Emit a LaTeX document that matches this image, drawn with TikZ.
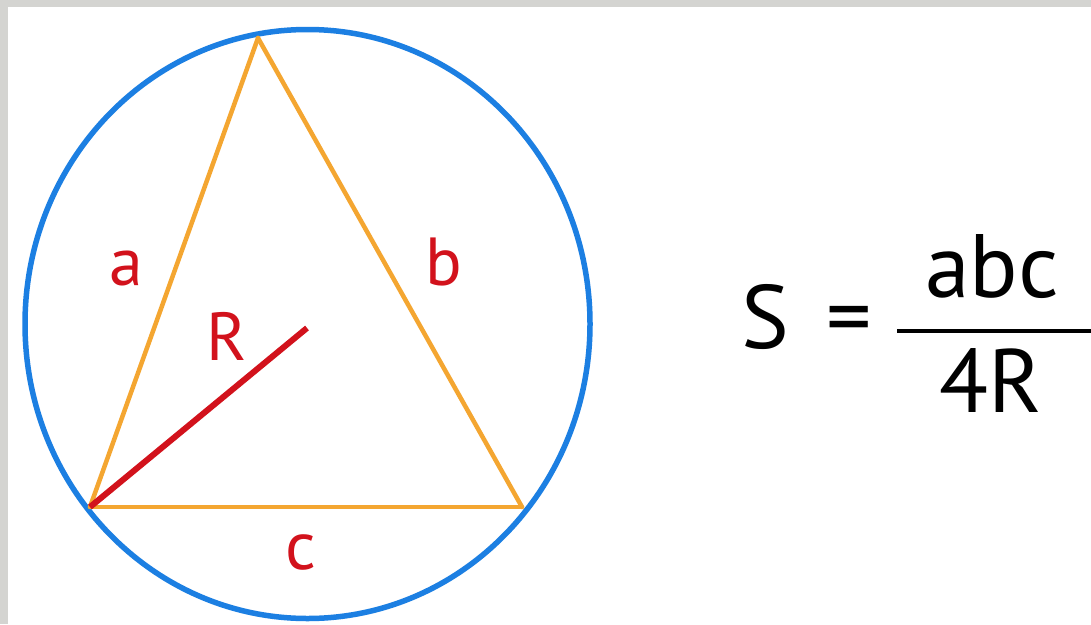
\documentclass[tikz,border=0pt]{standalone}
\usepackage{fontspec}
\setmainfont{PT Sans}
\definecolor{bgray}{HTML}{D4D4D1}
\definecolor{cblue}{HTML}{1C7FE2}
\definecolor{corange}{HTML}{F4A631}
\definecolor{cred}{HTML}{D2121C}
\tikzset{
  lbl/.style={text=cred, inner sep=0pt, anchor=base, font=\fontsize{68}{70}\selectfont},
  frm/.style={text=black, inner sep=0pt, font=\fontsize{90}{92}\selectfont},
  side/.style={draw=corange, line width=4.5pt, line cap=round, line join=round},
}
\begin{document}
\begin{tikzpicture}[x=1pt,y=-1pt]
\fill[bgray] (0,0) rectangle (1091,624);
\fill[white] (8,7) rectangle (1091,624);
\useasboundingbox (0,0) rectangle (1091,624);
% circumscribed circle
\draw[cblue, line width=5.5pt] (307.5,324) ellipse [x radius=282.5, y radius=294.5];
% triangle
\coordinate (A) at (258,38);
\coordinate (B) at (90,507);
\coordinate (C) at (522,507);
\coordinate (O) at (307,328);
\draw[side] (A) -- (B);
\draw[side] (A) -- (C);
\draw[side] (B) -- (C);
\draw[cred, line width=6pt] (B) -- (O);
% labels
\node[lbl] (la) at (126,285) {a};
\node[lbl] (lb) at (444,285) {b};
\node[lbl] (lR) at (227,360) {R};
\node[lbl] (lc) at (301,569) {c};
% formula
\node[frm, anchor=base west] (S) at (741,348) {S};
\node[frm, anchor=center] (eq) at (849,327) {=};
\coordinate (f1) at (897,331);
\coordinate (f2) at (1091,331);
\draw[black, line width=4.5pt] (f1) -- (f2);
\node[frm, anchor=base] (num) at (992,297) {abc};
\node[frm, anchor=base] (den) at (991,412) {4R};
\end{tikzpicture}
\end{document}
